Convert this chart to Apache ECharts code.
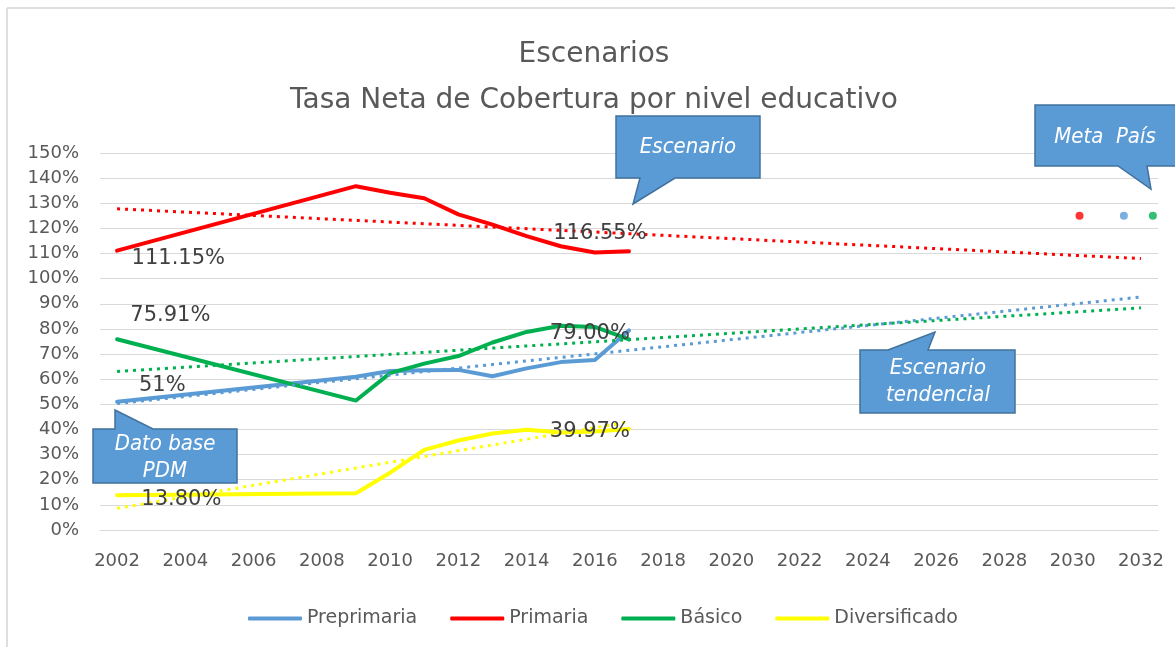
<!DOCTYPE html>
<html>
<head>
<meta charset="utf-8">
<script src="https://cdn.jsdelivr.net/npm/echarts@6/dist/echarts.min.js"></script>
<style>
  html, body { margin: 0; padding: 0; background: #fff; }
  #chart { width: 1175px; height: 647px; }
</style>
</head>
<body>
<div id="chart"></div>
<script>
// años del eje (categorías)
const years = ['2002', '2003', '2004', '2005', '2006', '2007', '2008', '2009', '2010', '2011',
  '2012', '2013', '2014', '2015', '2016', '2017', '2018', '2019', '2020', '2021', '2022',
  '2023', '2024', '2025', '2026', '2027', '2028', '2029', '2030', '2031', '2032']

// tasas observadas 2002-2017 (%), sin dato 2003-2008
const preprimaria   = [51.0, null, null, null, null, null, null, 61.0, 63.3, 63.6, 63.7, 61.2, 64.3, 66.8, 67.6, 79.4]
const primaria      = [111.15, null, null, null, null, null, null, 136.8, 134.2, 132.0, 125.6, 121.5, 116.9, 112.9, 110.4, 110.9]
const basico        = [75.91, null, null, null, null, null, null, 51.5, 62.4, 66.2, 69.2, 74.6, 78.8, 81.3, 80.8, 75.8]
const diversificado = [13.8, null, null, null, null, null, null, 14.6, 22.8, 31.9, 35.6, 38.4, 39.9, 38.8, 39.2, 40.2]

// líneas de tendencia: [año inicio, valor, año fin, valor]
const tendPreprimaria   = ['2002', 50.3, '2032', 92.7]
const tendPrimaria      = ['2002', 127.8, '2032', 108.0]
const tendBasico        = ['2002', 63.1, '2032', 88.4]
const tendDiversificado = ['2002', 8.6, '2017', 43.0]

// meta país (año aproximado en el eje, valor %)
const metaYears  = [2030.2, 2031.5, 2032.35]
const metaValues = [125, 125, 125]

// etiquetas de texto
const etiquetas = {
  Preprimaria:   [['51%', '2004', 57.3, -23]],
  Primaria:      [['111.15%', '2004', 108.2, -7], ['116.55%', '2016', 117.8, 5]],
  'Básico':      [['75.91%', '2004', 85.2, -15], ['79.00%', '2016', 78.0, -5]],
  Diversificado: [['39.97%', '2016', 39.0, -5], ['13.80%', '2004', 12.3, -4]]
}

const colores = {
  Preprimaria: '#5b9bd5',
  Primaria: '#ff0000',
  'Básico': '#00b050',
  Diversificado: '#ffff00'
}

const FONT = '"DejaVu Sans", sans-serif'
const CALLOUT_FONT = 'italic 22px "Liberation Sans Narrow", "DejaVu Sans Condensed", "Liberation Sans", sans-serif'

const tendencia = (t) => years.map(y => (y === t[0] ? t[1] : y === t[2] ? t[3] : null))

const serieReal = (name, data) => ({
  name,
  type: 'line',
  data,
  connectNulls: true,
  showSymbol: false,
  symbol: 'none',
  z: 3,
  lineStyle: { width: 4, color: colores[name], cap: 'round', join: 'round' },
  itemStyle: { color: colores[name] },
  markPoint: {
    symbol: 'circle',
    symbolSize: 1,
    itemStyle: { color: 'rgba(0,0,0,0)' },
    label: {
      show: true,
      position: 'inside',
      formatter: '{b}',
      color: '#404040',
      fontFamily: FONT,
      fontSize: 21
    },
    data: etiquetas[name].map(e => ({
      name: e[0],
      coord: [e[1], e[2]],
      label: { offset: [e[3], 0] }
    }))
  }
})

const serieTend = (name, t) => ({
  name: 'Tendencia ' + name,
  type: 'line',
  data: tendencia(t),
  connectNulls: true,
  showSymbol: false,
  symbol: 'none',
  z: 4,
  lineStyle: { width: 3, color: colores[name], type: [3, 5] }
})

// globo de texto (callout)
const globo = (points, textos) => [
  {
    type: 'polygon',
    shape: { points },
    style: { fill: '#5b9bd5', stroke: '#41719c', lineWidth: 1.5 },
    z: 10
  },
  ...textos.map(t => ({
    type: 'text',
    x: t[1],
    y: t[2],
    z: 11,
    style: {
      text: t[0],
      fill: '#ffffff',
      font: CALLOUT_FONT,
      align: 'center',
      verticalAlign: 'middle'
    }
  }))
]

const chart = echarts.init(document.getElementById('chart'))

chart.setOption({
  animation: false,
  backgroundColor: '#ffffff',
  title: {
    text: 'Escenarios\nTasa Neta de Cobertura por nivel educativo',
    left: 594,
    textAlign: 'center',
    top: 32,
    padding: 0,
    textStyle: {
      fontFamily: FONT,
      fontSize: 28,
      fontWeight: 'normal',
      color: '#595959',
      lineHeight: 46
    }
  },
  legend: {
    data: ['Preprimaria', 'Primaria', 'Básico', 'Diversificado'],
    left: 243,
    top: 604,
    icon: 'roundRect',
    itemWidth: 54,
    itemHeight: 4,
    itemGap: 33,
    textStyle: { fontFamily: FONT, fontSize: 19, color: '#595959' }
  },
  grid: {
    left: 100,
    right: 17,
    top: 153,
    bottom: 117,
    containLabel: false
  },
  xAxis: [
    {
      type: 'category',
      data: years,
      boundaryGap: true,
      axisLine: { show: true, lineStyle: { color: '#d9d9d9' } },
      axisTick: { show: false },
      axisLabel: {
        interval: 1,
        margin: 22,
        fontFamily: FONT,
        fontSize: 18,
        color: '#595959'
      },
      splitLine: { show: false }
    },
    {
      type: 'value',
      min: 2001.5,
      max: 2032.5,
      show: false
    }
  ],
  yAxis: {
    type: 'value',
    min: 0,
    max: 150,
    interval: 10,
    axisLine: { show: false },
    axisTick: { show: false },
    axisLabel: {
      formatter: '{value}%',
      margin: 21,
      fontFamily: FONT,
      fontSize: 18,
      color: '#595959'
    },
    splitLine: { lineStyle: { color: '#d9d9d9', width: 1 } }
  },
  series: [
    serieReal('Preprimaria', preprimaria),
    serieReal('Primaria', primaria),
    serieReal('Básico', basico),
    serieReal('Diversificado', diversificado),
    serieTend('Preprimaria', tendPreprimaria),
    serieTend('Primaria', tendPrimaria),
    serieTend('Básico', tendBasico),
    serieTend('Diversificado', tendDiversificado),
    {
      name: 'Meta País',
      type: 'scatter',
      xAxisIndex: 1,
      symbolSize: 8,
      z: 5,
      data: metaYears.map((y, i) => ({
        value: [y, metaValues[i]],
        itemStyle: { color: [colores.Primaria, colores.Preprimaria, colores['Básico']][i] }
      }))
    }
  ],
  graphic: [
    // marco del gráfico
    { type: 'line', shape: { x1: 7, y1: 8, x2: 1175, y2: 8 }, style: { stroke: '#dedede', lineWidth: 2 } },
    { type: 'line', shape: { x1: 7, y1: 8, x2: 7, y2: 647 }, style: { stroke: '#dedede', lineWidth: 2 } },
    ...globo(
      [[616, 116], [760, 116], [760, 178], [675, 178], [633, 204], [640, 178], [616, 178]],
      [['Escenario', 688, 147]]
    ),
    ...globo(
      [[1035, 105], [1180, 105], [1180, 166], [1147, 166], [1151, 189], [1118, 166], [1035, 166]],
      [['Meta  País', 1105, 137]]
    ),
    ...globo(
      [[860, 350], [888, 350], [935, 332], [928, 350], [1015, 350], [1015, 413], [860, 413]],
      [['Escenario', 938, 368], ['tendencial', 938, 395]]
    ),
    ...globo(
      [[93, 429], [115, 429], [115, 410], [153, 429], [237, 429], [237, 483], [93, 483]],
      [['Dato base', 165, 444], ['PDM', 165, 471]]
    )
  ]
})
</script>
</body>
</html>
